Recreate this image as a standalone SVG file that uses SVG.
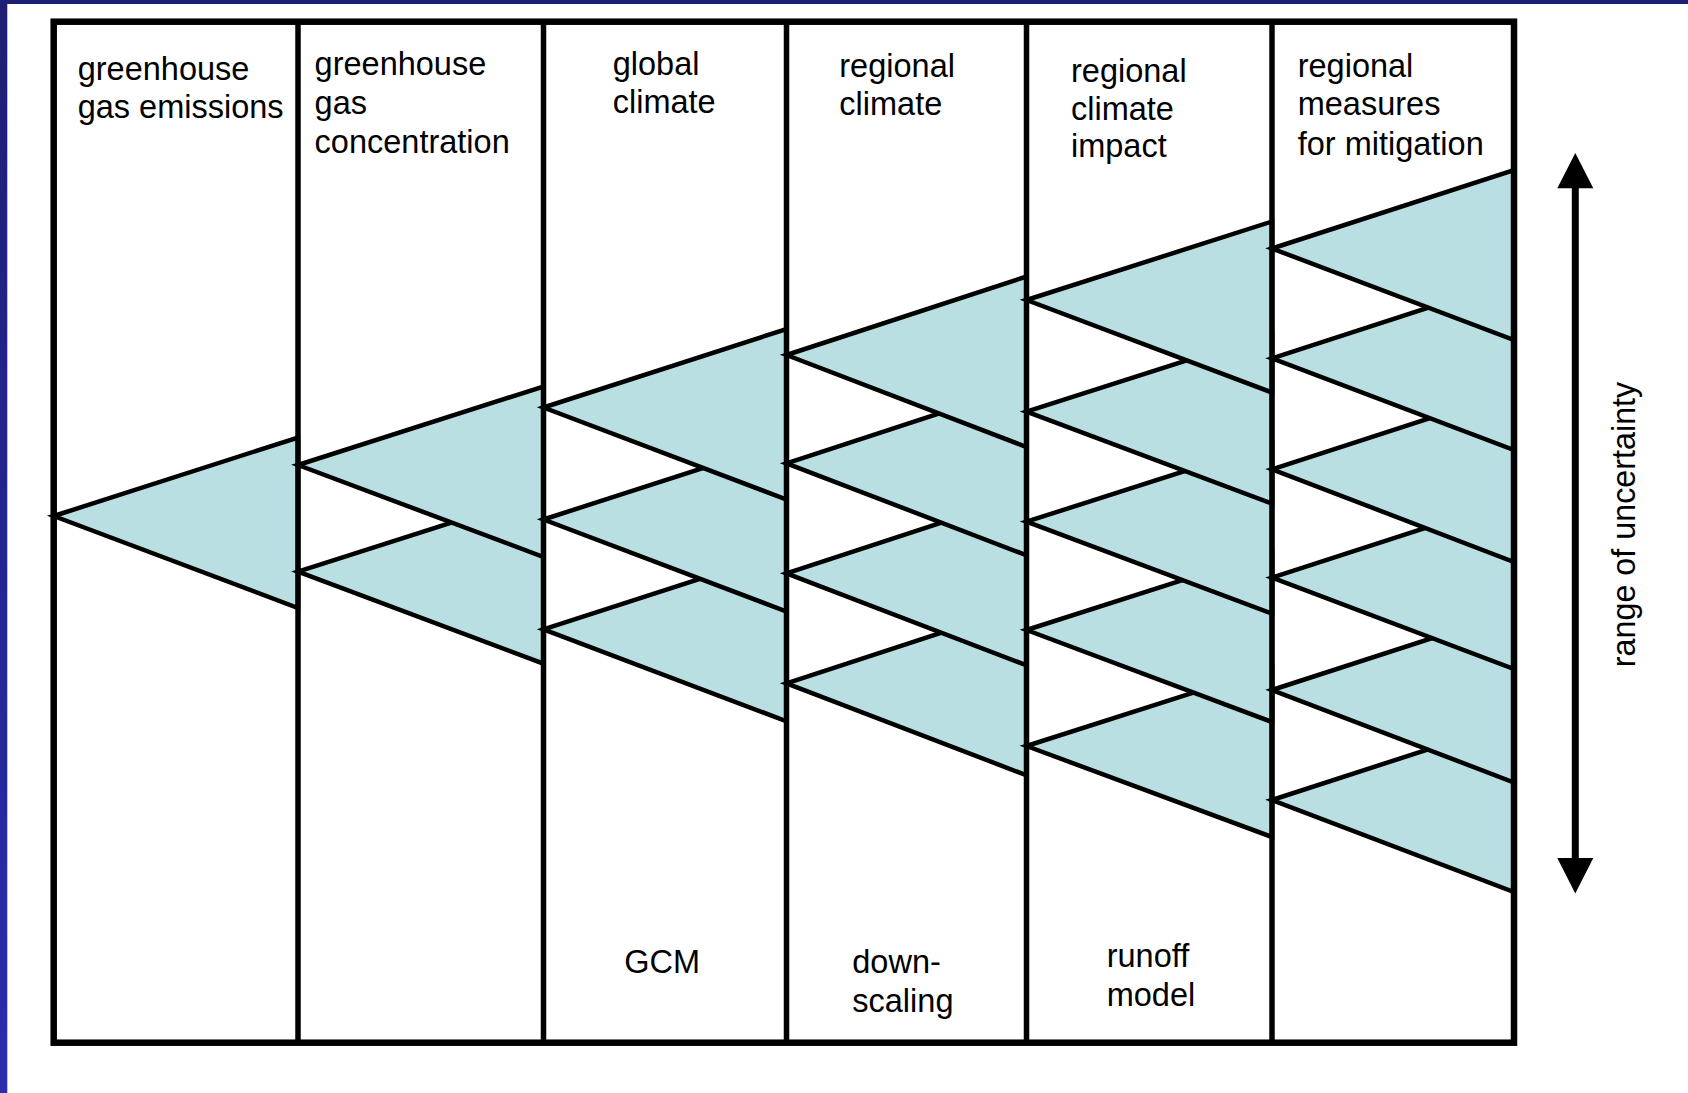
<svg xmlns="http://www.w3.org/2000/svg" width="1688" height="1093" viewBox="0 0 1688 1093">
<style>
.t{font-family:"Liberation Sans",Arial,sans-serif;font-size:32.5px;fill:#000}
.r{font-family:"Liberation Sans",Arial,sans-serif;font-size:32.3px;fill:#000}
.tri{fill:#b9dfe2;stroke:#000;stroke-width:4.5;stroke-linejoin:miter;stroke-miterlimit:6}
.div{stroke:#000;stroke-width:5.5;fill:none}
.frame{stroke:#000;stroke-width:6.5;fill:none}
</style>
<defs>
<linearGradient id="lg" x1="0" y1="0" x2="0" y2="1">
<stop offset="0" stop-color="#1e1e74"/>
<stop offset="1" stop-color="#2c2cae"/>
</linearGradient>
</defs>
<rect x="0" y="0" width="1688" height="1093" fill="#fff"/>
<rect x="0" y="0" width="1688" height="4" fill="#1e1e74"/>
<rect x="0" y="0" width="7.3" height="1093" fill="url(#lg)"/>

<g id="col0">
<polygon class="tri" points="53.7,516 298,437.5 298,608"/>
<text class="t" x="77.7" y="80">greenhouse</text>
<text class="t" x="77.7" y="118.3">gas emissions</text>
</g>

<g id="col1">
<polygon class="tri" points="298,571.7 543.5,493.2 543.5,663.7"/>
<polygon class="tri" points="298,465 543.5,386.5 543.5,557"/>
<text class="t" x="314.6" y="75">greenhouse</text>
<text class="t" x="314.6" y="113.5">gas</text>
<text class="t" x="314.6" y="152.5">concentration</text>
</g>

<g id="col2">
<polygon class="tri" points="543.5,629.3 786.5,550.8 786.5,721.3"/>
<polygon class="tri" points="543.5,519.5 786.5,441 786.5,611.5"/>
<polygon class="tri" points="543.5,407.5 786.5,329 786.5,499.5"/>
<text class="t" x="612.7" y="75">global</text>
<text class="t" x="612.7" y="113.3">climate</text>
<text class="t" x="624.3" y="973.3">GCM</text>
</g>

<g id="col3">
<polygon class="tri" points="786.5,683.3 1026.5,604.8 1026.5,775.3"/>
<polygon class="tri" points="786.5,573.3 1026.5,494.8 1026.5,665.3"/>
<polygon class="tri" points="786.5,463.3 1026.5,384.8 1026.5,555.3"/>
<polygon class="tri" points="786.5,355 1026.5,276.5 1026.5,447"/>
<text class="t" x="839.3" y="77.3">regional</text>
<text class="t" x="839.3" y="115">climate</text>
<text class="t" x="852.3" y="973.3">down-</text>
<text class="t" x="852.3" y="1011.7">scaling</text>
</g>

<g id="col4">
<polygon class="tri" points="1026.5,746 1272,667.5 1272,837"/>
<polygon class="tri" points="1026.5,630 1272,551.5 1272,722"/>
<polygon class="tri" points="1026.5,521.7 1272,443.2 1272,613.7"/>
<polygon class="tri" points="1026.5,411.7 1272,333.2 1272,503.7"/>
<polygon class="tri" points="1026.5,300 1272,221.5 1272,392.5"/>
<text class="t" x="1071" y="81.7">regional</text>
<text class="t" x="1071" y="120">climate</text>
<text class="t" x="1071" y="157.3">impact</text>
<text class="t" x="1106.7" y="966.7">runoff</text>
<text class="t" x="1106.7" y="1006">model</text>
</g>

<g id="col5">
<polygon class="tri" points="1272,800 1514,721.5 1514,892"/>
<polygon class="tri" points="1272,690 1514,611.5 1514,782.5"/>
<polygon class="tri" points="1272,577.7 1514,499.2 1514,669"/>
<polygon class="tri" points="1272,469.3 1514,390.8 1514,562"/>
<polygon class="tri" points="1272,358.3 1514,279.8 1514,450"/>
<polygon class="tri" points="1272,248.5 1514,170 1514,340"/>
<text class="t" x="1297.7" y="77.3">regional</text>
<text class="t" x="1297.7" y="115">measures</text>
<text class="t" x="1297.7" y="155">for mitigation</text>
</g>

<g id="frame">
<line class="div" x1="298" y1="21.7" x2="298" y2="1042.7"/>
<line class="div" x1="543.5" y1="21.7" x2="543.5" y2="1042.7"/>
<line class="div" x1="786.5" y1="21.7" x2="786.5" y2="1042.7"/>
<line class="div" x1="1026.5" y1="21.7" x2="1026.5" y2="1042.7"/>
<line class="div" x1="1272" y1="21.7" x2="1272" y2="1042.7"/>
<rect class="frame" x="53.7" y="21.7" width="1460.3" height="1021"/>
</g>

<g id="connectors">
<line x1="1575.3" y1="186" x2="1575.3" y2="860" stroke="#000" stroke-width="7"/>
<polygon points="1575.3,153 1593.3,188.3 1557.3,188.3" fill="#000"/>
<polygon points="1557.3,858 1593.3,858 1575.3,893.5" fill="#000"/>
</g>

<g id="label-uncertainty">
<text class="r" x="0" y="0" text-anchor="middle" transform="translate(1634.5,524.5) rotate(-90)">range of uncertainty</text>
</g>
</svg>
